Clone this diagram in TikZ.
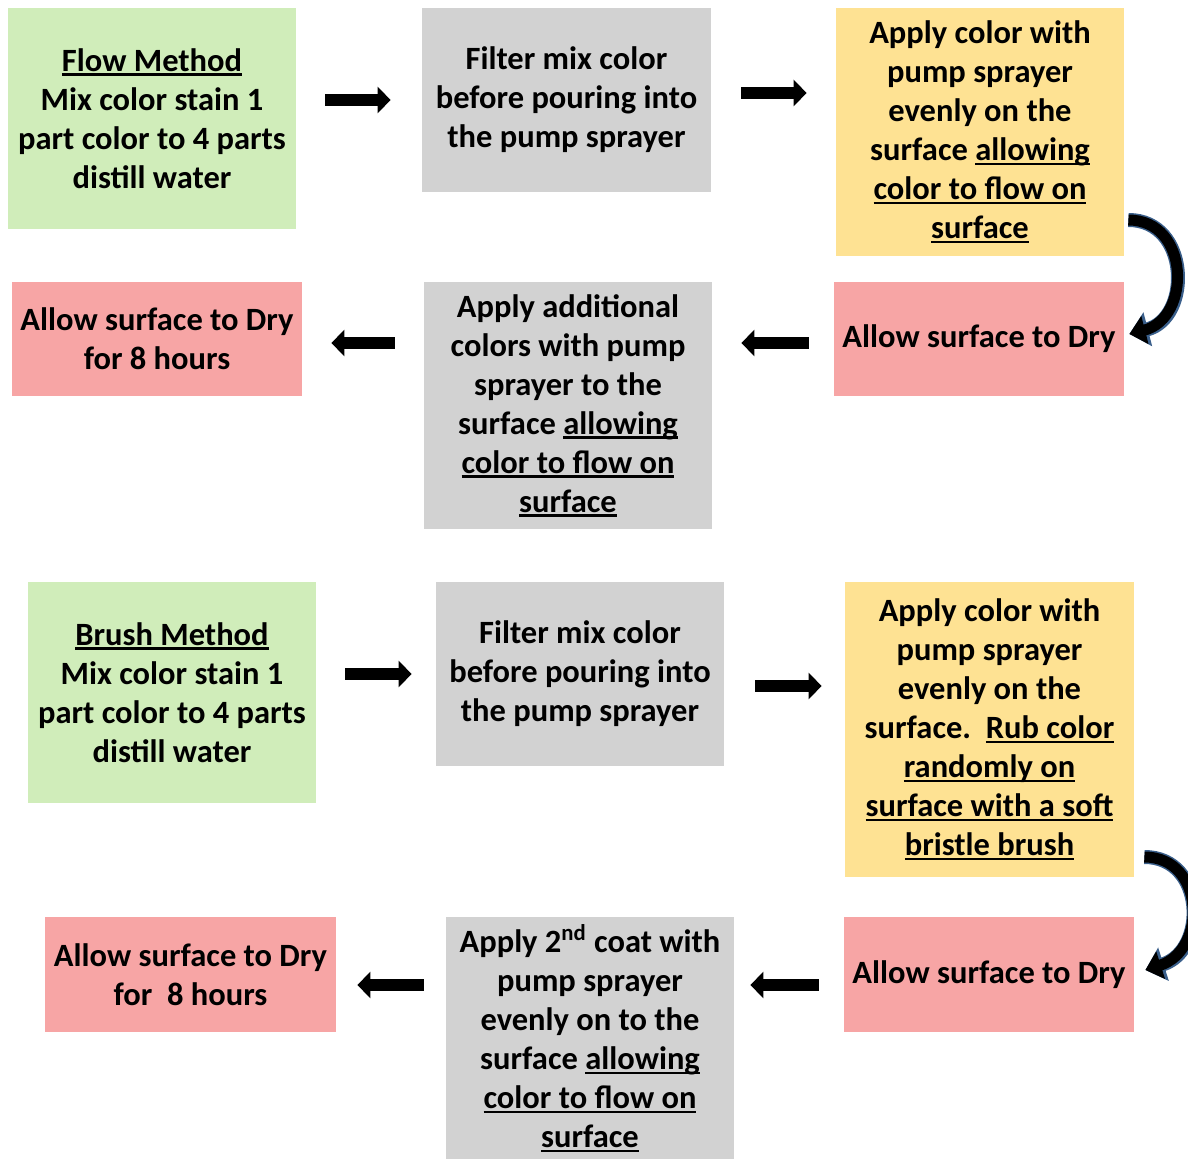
\documentclass[tikz,border=0pt]{standalone}
\usepackage{fontspec}
\setmainfont{Carlito}
\usetikzlibrary{arrows.meta}
\definecolor{gbox}{HTML}{D0EDBA}
\definecolor{sbox}{HTML}{D2D2D2}
\definecolor{ybox}{HTML}{FEE293}
\definecolor{rbox}{HTML}{F7A5A5}
\definecolor{outl}{HTML}{3A5F8B}
\newcommand\myul[1]{\setbox0\hbox{#1}\rlap{\rule[-2.2pt]{\wd0}{1.1pt}}\box0}
\begin{document}
\begin{tikzpicture}[x=0.5pt,y=0.5pt,
  box/.style={inner sep=0pt, align=center, font=\bfseries\fontsize{16.25}{19.5}\selectfont, text=black},
  barrow/.style={line width=6pt, -{Triangle[width=13pt,length=6.5pt]}},
  carrow/.style={line width=5.5pt, -{Triangle[width=14pt,length=8pt]},
    preaction={draw=outl, line width=7pt, -{Triangle[width=17pt,length=9.5pt]}}}]
\useasboundingbox (0,0) rectangle (1188,-1159);
\clip (0,0) rectangle (1188,-1159);
% Row 1
\node[box, fill=gbox, minimum width=144pt, minimum height=110.5pt] (A1) at (152,-118.5)
  {\myul{Flow Method}\\Mix color stain 1\\part color to 4 parts\\distill water};
\node[box, fill=sbox, minimum width=144.5pt, minimum height=92pt] (A2) at (566.5,-100)
  {Filter mix color\\before pouring into\\the pump sprayer};
\node[box, fill=ybox, minimum width=144pt, minimum height=124pt] (A3) at (980,-132)
  {Apply color with\\pump sprayer\\evenly on the\\surface \myul{allowing}\\\myul{color to flow on}\\\myul{surface}};
% Row 2
\node[box, fill=rbox, minimum width=145pt, minimum height=57pt] (B1) at (979,-339)
  {Allow surface to Dry};
\node[box, fill=sbox, minimum width=144pt, minimum height=123.5pt] (B2) at (568,-405.5)
  {Apply additional\\colors with pump\\sprayer to the\\surface \myul{allowing}\\\myul{color to flow on}\\\myul{surface}};
\node[box, fill=rbox, minimum width=145pt, minimum height=57pt] (B3) at (157,-339)
  {Allow surface to Dry\\for 8 hours};
% Row 3
\node[box, fill=gbox, minimum width=144pt, minimum height=110.5pt] (C1) at (172,-692.5)
  {\myul{Brush Method}\\Mix color stain 1\\part color to 4 parts\\distill water};
\node[box, fill=sbox, minimum width=144pt, minimum height=92pt] (C2) at (580,-674)
  {Filter mix color\\before pouring into\\the pump sprayer};
\node[box, fill=ybox, minimum width=144.5pt, minimum height=147.5pt] (C3) at (989.5,-729.5)
  {Apply color with\\pump sprayer\\evenly on the\\surface.\ \ \myul{Rub color}\\\myul{randomly on}\\\myul{surface with a soft}\\\myul{bristle brush}};
% Row 4
\node[box, fill=rbox, minimum width=145pt, minimum height=57.5pt] (D1) at (989,-974.5)
  {Allow surface to Dry};
\node[box, fill=sbox, minimum width=144pt, minimum height=121pt] (D2) at (590,-1038)
  {Apply 2\textsuperscript{nd} coat with\\pump sprayer\\evenly on to the\\surface \myul{allowing}\\\myul{color to flow on}\\\myul{surface}};
\node[box, fill=rbox, minimum width=145.5pt, minimum height=57.5pt] (D3) at (190.5,-974.5)
  {Allow surface to Dry\\for\ \ 8 hours};
% straight block arrows
\draw[barrow, shorten <=14.5pt, shorten >=15.5pt] (A1.east |- 0,-100) -- (A2.west |- 0,-100);
\draw[barrow, shorten <=15pt, shorten >=14.5pt] (A2.east |- 0,-93) -- (A3.west |- 0,-93);
\draw[barrow, shorten <=12.5pt, shorten >=14.5pt] (B1.west |- 0,-343) -- (B2.east |- 0,-343);
\draw[barrow, shorten <=14.5pt, shorten >=14.5pt] (B2.west |- 0,-343) -- (B3.east |- 0,-343);
\draw[barrow, shorten <=14.5pt, shorten >=12pt] (C1.east |- 0,-674) -- (C2.west |- 0,-674);
\draw[barrow, shorten <=15.5pt, shorten >=11.5pt] (C2.east |- 0,-686) -- (C3.west |- 0,-686);
\draw[barrow, shorten <=12.5pt, shorten >=8pt] (D1.west |- 0,-985) -- (D2.east |- 0,-985);
\draw[barrow, shorten <=11pt, shorten >=10.5pt] (D2.west |- 0,-985) -- (D3.east |- 0,-985);
% curved arrows
\draw[carrow] ([xshift=2pt]A3.east |- 0,-220) .. controls (1190,-220) and (1192,-318) .. ([xshift=2.5pt]B1.east |- 0,-334);
\draw[carrow] ([xshift=5pt]C3.east |- 0,-857) .. controls (1205,-857) and (1208,-950) .. ([xshift=5.5pt]D1.east |- 0,-970);
\end{tikzpicture}
\end{document}
